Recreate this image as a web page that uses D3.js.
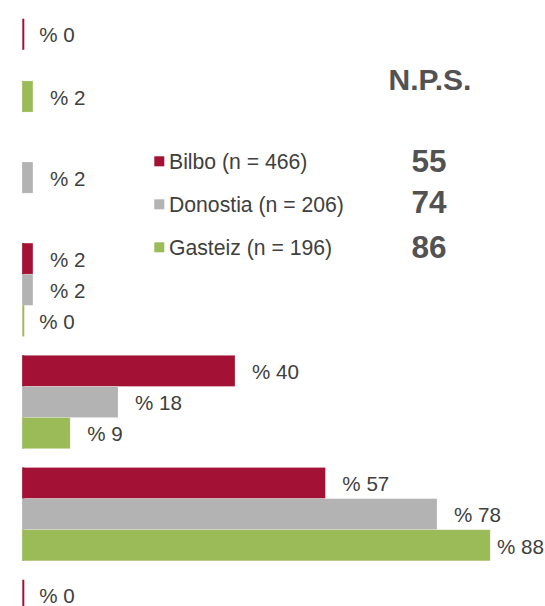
<!DOCTYPE html>
<html>
<head>
<meta charset="utf-8">
<script src="https://cdn.jsdelivr.net/npm/d3@7"></script>
<style>
  html, body { margin: 0; padding: 0; background: #fff; }
  svg { display: block; font-family: "Liberation Sans", Arial, sans-serif; }
</style>
</head>
<body>
<svg id="chart" width="545" height="606"></svg>
<script>
// Rating bands (groups of bars, top to bottom)
const categories = ["0-2", "3-4", "5-6", "7-8", "9-10", "ED/EE"];
// Series: one bar per city inside every band
const series = ["Bilbo", "Donostia", "Gasteiz"];
const seriesLabels = ["Bilbo (n = 466)", "Donostia (n = 206)", "Gasteiz (n = 196)"];
// Percentages per band; null = no bar shown
const bilbo    = [0,    null, 2, 40, 57, 0];
const donostia = [null, 2,    2, 18, 78, null];
const gasteiz  = [2,    null, 0, 9,  88, null];
// Net Promoter Score per city
const npsValues = [55, 74, 86];

const colors = ["#A31234", "#B3B3B3", "#9BBB59"];
const textColor = "#404040";

const svg = d3.select("#chart");
const W = 545, H = 606;
svg.append("rect").attr("width", W).attr("height", H).attr("fill", "#fff");

const values = [bilbo, donostia, gasteiz];
const rows = [];
categories.forEach((c, ci) => {
  series.forEach((s, si) => {
    const v = values[si][ci];
    if (v !== null && v !== undefined) rows.push({ cat: c, ser: s, si, value: v });
  });
});

const step = 112.2, padIn = 0.168, plotTop = 18.7;
const y0 = d3.scaleBand()
  .domain(categories)
  .range([plotTop, plotTop + step * categories.length - step * padIn])
  .paddingInner(padIn)
  .paddingOuter(0);
const y1 = d3.scaleBand().domain(series).range([0, y0.bandwidth()]);
const x = d3.scaleLinear().domain([0, 100]).range([22.3, 554]);

const g = svg.append("g");

// Bars
g.selectAll("rect.bar")
  .data(rows)
  .join("rect")
  .attr("class", "bar")
  .attr("x", x(0))
  .attr("y", d => y0(d.cat) + y1(d.ser))
  .attr("width", d => x(d.value) - x(0))
  .attr("height", y1.bandwidth())
  .attr("fill", d => colors[d.si])
  .attr("stroke", "#fff")
  .attr("stroke-opacity", 0.35)
  .attr("stroke-width", 0.6);

// Left edge of every bar (keeps zero values visible)
g.selectAll("line.edge")
  .data(rows)
  .join("line")
  .attr("class", "edge")
  .attr("x1", x(0) + 1).attr("x2", x(0) + 1)
  .attr("y1", d => y0(d.cat) + y1(d.ser))
  .attr("y2", d => y0(d.cat) + y1(d.ser) + y1.bandwidth())
  .attr("stroke", d => colors[d.si])
  .attr("stroke-width", 2);

// Value labels
const labelGap = 17, rightLimit = 544;
g.selectAll("text.val")
  .data(rows)
  .join("text")
  .attr("class", "val")
  .attr("y", d => y0(d.cat) + y1(d.ser) + y1.bandwidth() / 2)
  .attr("dy", "0.4em")
  .attr("font-size", 20.6)
  .attr("fill", textColor)
  .text(d => "% " + d.value)
  .attr("x", function (d) {
    const w = this.getComputedTextLength();
    return Math.min(x(d.value) + labelGap, rightLimit - w);
  });

// Legend
const legend = svg.append("g");
const legendBase = [168.5, 211.5, 254.5];
series.forEach((s, i) => {
  legend.append("rect")
    .attr("x", 154.3).attr("y", legendBase[i] - 12.2)
    .attr("width", 10).attr("height", 10)
    .attr("fill", colors[i]);
  legend.append("text")
    .attr("x", 169).attr("y", legendBase[i])
    .attr("font-size", 21.2)
    .attr("fill", textColor)
    .text(seriesLabels[i]);
});

// N.P.S. block
const npsX = 430;
svg.append("text")
  .attr("x", npsX).attr("y", 90)
  .attr("text-anchor", "middle")
  .attr("font-size", 30).attr("font-weight", "bold")
  .attr("fill", "#525252")
  .text("N.P.S.");
const npsBase = [171.7, 213.3, 258.3];
npsValues.forEach((v, i) => {
  svg.append("text")
    .attr("x", npsX - 1).attr("y", npsBase[i])
    .attr("text-anchor", "middle")
    .attr("font-size", 31.5).attr("font-weight", "bold")
    .attr("fill", "#525252")
    .text(v);
});
</script>
</body>
</html>
